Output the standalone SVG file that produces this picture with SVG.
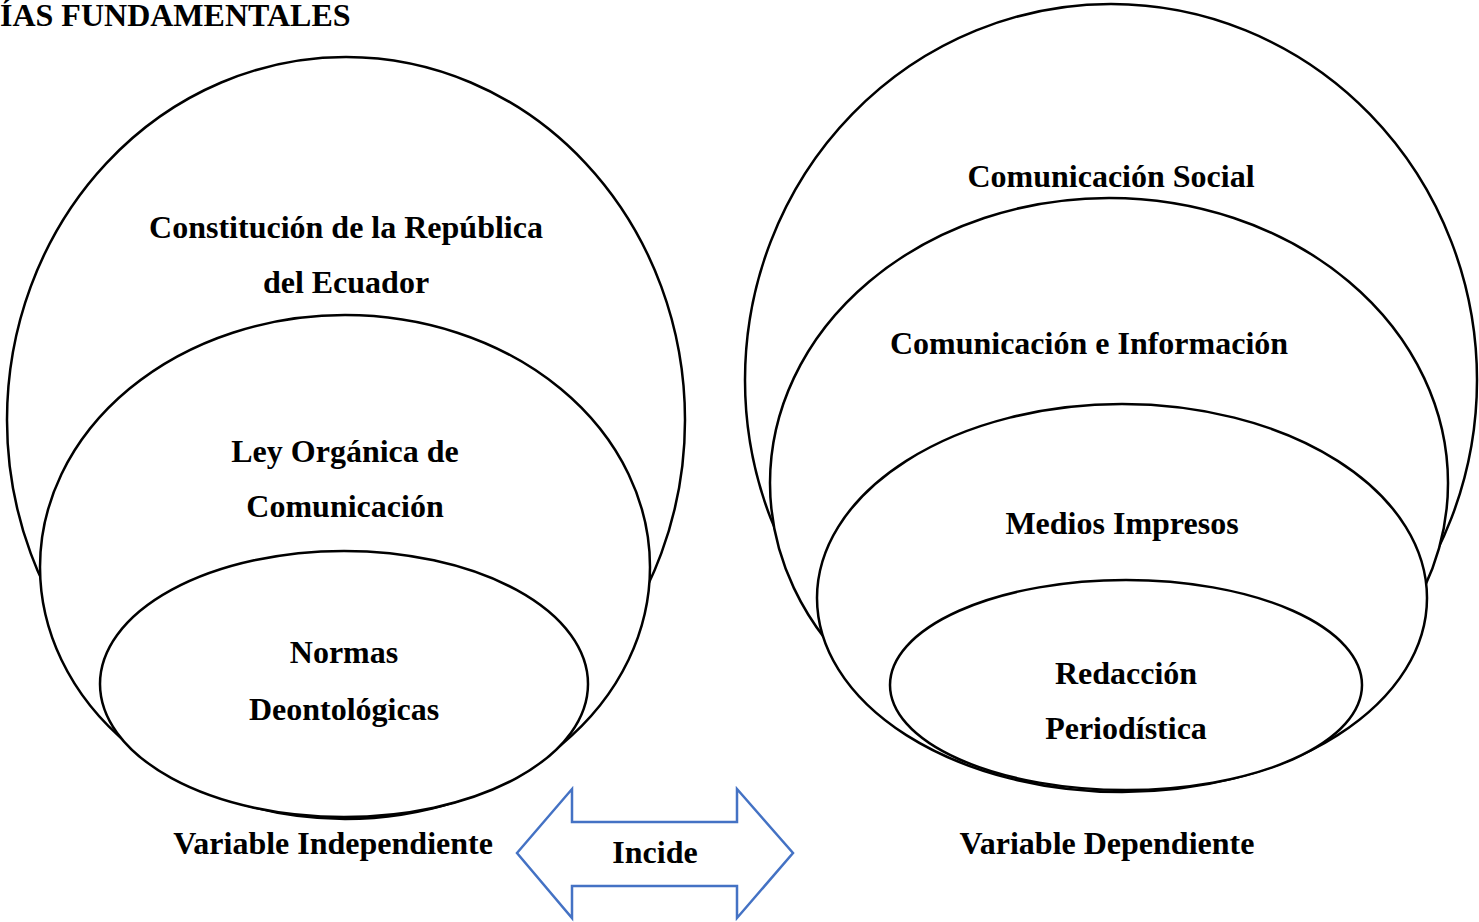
<svg xmlns="http://www.w3.org/2000/svg" width="1479" height="922" viewBox="0 0 1479 922">
<style>
.e{fill:#fff;stroke:#000;stroke-width:2.5}
.t{font-family:"Liberation Serif","Times New Roman",serif;font-weight:bold;font-size:32px;fill:#000;text-anchor:middle}
</style>
<rect width="1479" height="922" fill="#fff"/>
<text class="t" x="0" y="26" style="text-anchor:start">ÍAS FUNDAMENTALES</text>
<g id="left-group">
<g id="n-constitucion"><ellipse class="e" cx="346" cy="420" rx="339" ry="363"/>
<text class="t" x="346" y="238">Constitución de la República</text>
<text class="t" x="346" y="293">del Ecuador</text></g>
<g id="n-ley"><ellipse class="e" cx="345" cy="567" rx="305" ry="252"/>
<text class="t" x="345" y="462">Ley Orgánica de</text>
<text class="t" x="345" y="517">Comunicación</text></g>
<g id="n-normas"><ellipse class="e" cx="344" cy="684" rx="244" ry="133"/>
<text class="t" x="344" y="663">Normas</text>
<text class="t" x="344" y="720">Deontológicas</text></g>
<text class="t" x="333" y="854">Variable Independiente</text>
</g>
<g id="right-group">
<g id="n-comsocial"><ellipse class="e" cx="1111" cy="380" rx="366" ry="376"/>
<text class="t" x="1111" y="187">Comunicación Social</text></g>
<g id="n-cominfo"><ellipse class="e" cx="1109" cy="483" rx="339" ry="285"/>
<text class="t" x="1089" y="354">Comunicación e Información</text></g>
<g id="n-medios"><ellipse class="e" cx="1122" cy="598" rx="305" ry="194"/>
<text class="t" x="1122" y="534">Medios Impresos</text></g>
<g id="n-redaccion"><ellipse class="e" cx="1126" cy="685" rx="236" ry="105"/>
<text class="t" x="1126" y="684">Redacción</text>
<text class="t" x="1126" y="739">Periodística</text></g>
<text class="t" x="1107" y="854">Variable Dependiente</text>
</g>
<g id="connectors">
<g id="incide">
<polygon points="517,853 572,789 572,822 737,822 737,789 793,853 737,918 737,886 572,886 572,918" fill="#fff" stroke="#4472C4" stroke-width="2.5"/>
<text class="t" x="655" y="863">Incide</text>
</g>
</g>
</svg>
